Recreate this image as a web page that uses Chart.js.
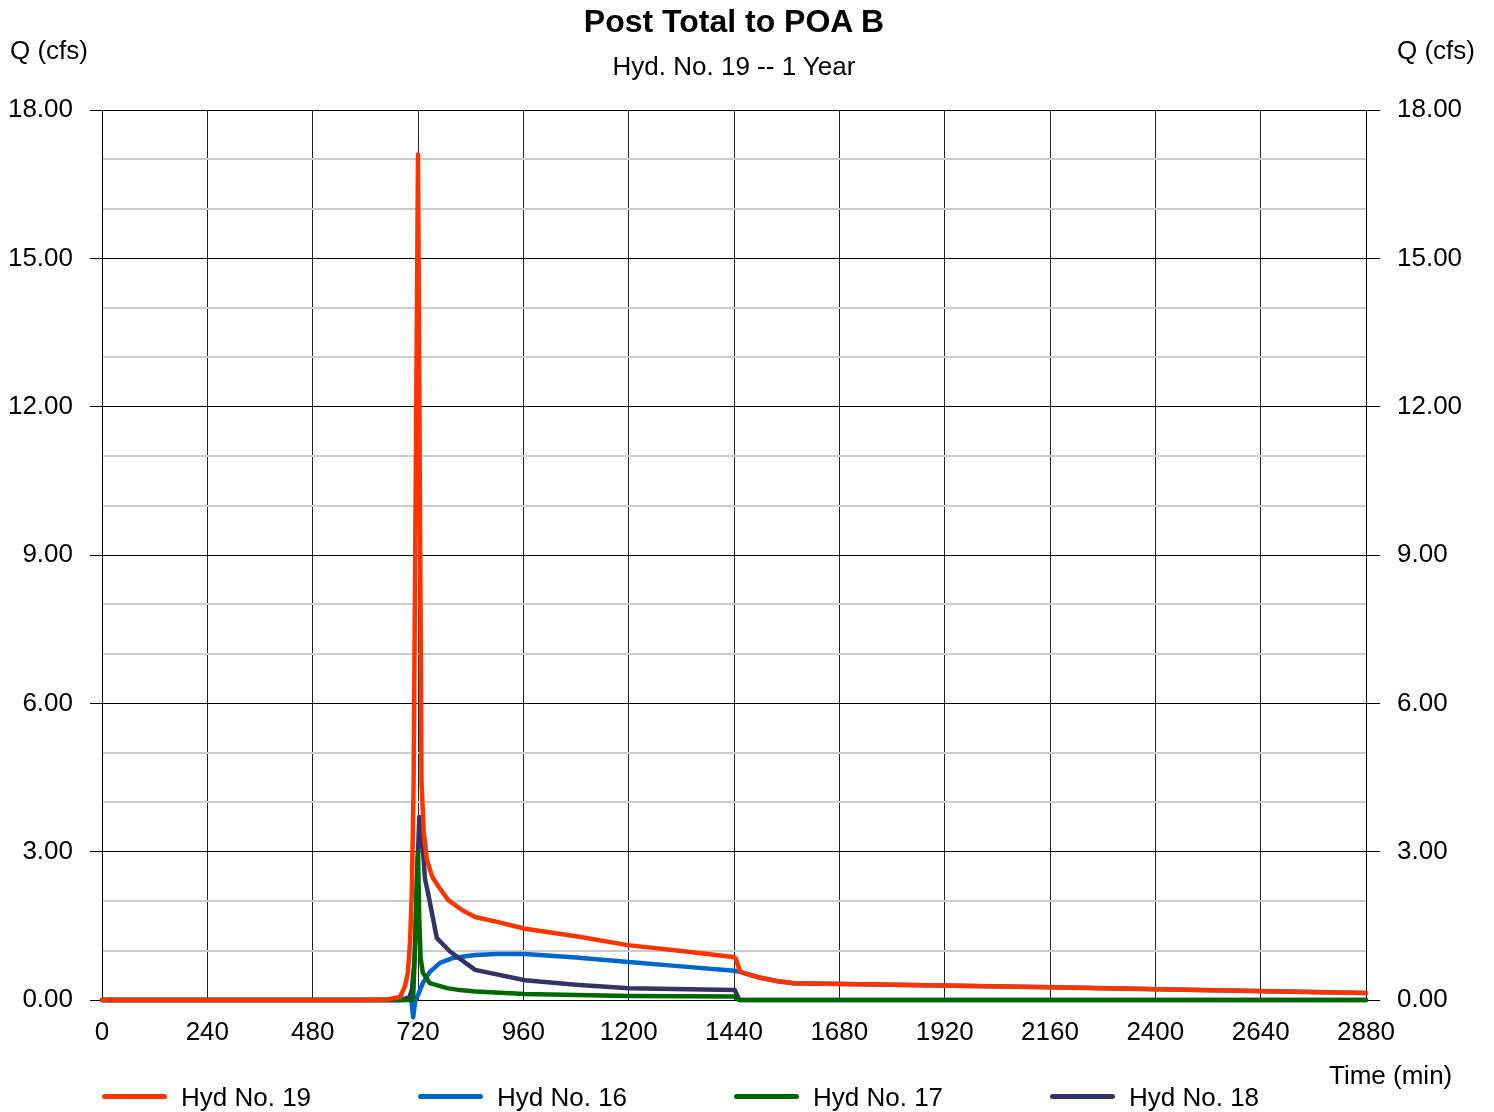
<!DOCTYPE html>
<html>
<head>
<meta charset="utf-8">
<script src="https://cdn.jsdelivr.net/npm/chart.js@4/dist/chart.umd.min.js"></script>
<style>
  body { margin: 0; background: #fff; font-family: "Liberation Sans", Arial, sans-serif; color: #000; }
  #wrap { position: relative; width: 1494px; height: 1112px; }
  .txt { position: absolute; line-height: 1; white-space: nowrap; font-size: 26px; }
  .title { font-size: 32px; font-weight: bold; left: 0; width: 1468px; text-align: center; }
  .sub { left: 0; width: 1468px; text-align: center; }
  .leg-line { position: absolute; height: 5px; width: 65px; border-radius: 3px; }
</style>
</head>
<body>
<div id="wrap">
  <canvas id="chart" width="1494" height="1112"></canvas>
  <div class="txt title" style="top:5px">Post Total to POA B</div>
  <div class="txt sub" style="top:53px">Hyd. No. 19 -- 1 Year</div>
  <div class="txt" style="left:10px; top:37px">Q (cfs)</div>
  <div class="txt" style="left:1397px; top:37px">Q (cfs)</div>
  <div class="txt" style="left:1329px; top:1062px">Time (min)</div>
  <div id="legend"></div>
</div>
<script>
// Hyd No. 19 (total)
const hyd19Time = [0, 600, 650, 679, 690, 697, 702, 706, 710, 720, 728, 733, 740, 752, 766, 789, 820, 850, 900, 964, 1080, 1198, 1320, 1438, 1444, 1454, 1495, 1540, 1576, 1800, 2163, 2500, 2880];
const hyd19Q    = [0, 0, 0.01, 0.06, 0.27, 0.55, 1.2, 2.2, 4.4, 17.1, 4.4, 3.4, 2.85, 2.5, 2.3, 2.02, 1.82, 1.68, 1.58, 1.44, 1.29, 1.11, 0.99, 0.87, 0.84, 0.57, 0.46, 0.38, 0.34, 0.31, 0.26, 0.20, 0.14];

// Hyd No. 16
const hyd16Time = [0, 690, 700, 704, 709, 714, 720, 731, 747, 770, 800, 850, 900, 964, 1080, 1200, 1320, 1440, 1454, 1495, 1540, 1576, 1800, 2163, 2500, 2880];
const hyd16Q    = [0, 0, 0.02, 0.08, -0.35, 0.0, 0.1, 0.34, 0.57, 0.75, 0.85, 0.91, 0.93, 0.93, 0.86, 0.77, 0.68, 0.59, 0.57, 0.46, 0.38, 0.34, 0.31, 0.26, 0.20, 0.14];

// Hyd No. 17
const hyd17Time = [0, 706, 709, 714, 718, 720, 723, 726, 731, 747, 786, 816, 850, 964, 1200, 1442, 1452, 2880];
const hyd17Q    = [0, 0, 0.05, 1.2, 2.6, 3.0, 1.6, 0.85, 0.55, 0.34, 0.24, 0.2, 0.17, 0.12, 0.08, 0.07, 0, 0];

// Hyd No. 18
const hyd18Time = [0, 680, 700, 706, 712, 718, 723, 729, 736, 743, 763, 793, 850, 964, 1080, 1200, 1442, 1452, 2880];
const hyd18Q    = [0, 0, 0.05, 0.2, 0.8, 2.5, 3.7, 3.3, 2.45, 2.16, 1.25, 0.98, 0.61, 0.40, 0.31, 0.24, 0.20, 0, 0];

const seriesNames = ['Hyd No. 19', 'Hyd No. 16', 'Hyd No. 17', 'Hyd No. 18'];
const seriesColors = ['#ff3300', '#0066cc', '#006600', '#333366'];
const seriesOrder = [0, 3, 1, 2];

const xTicks = [0, 240, 480, 720, 960, 1200, 1440, 1680, 1920, 2160, 2400, 2640, 2880];
const yMax = 18;
const yMajor = 3;

function toPoints(times, values) {
  return times.map((t, i) => ({ x: t, y: values[i] }));
}

const allSeries = [
  toPoints(hyd19Time, hyd19Q),
  toPoints(hyd16Time, hyd16Q),
  toPoints(hyd17Time, hyd17Q),
  toPoints(hyd18Time, hyd18Q)
];

const datasets = allSeries.map((pts, i) => ({
  label: seriesNames[i],
  data: pts,
  borderColor: seriesColors[i],
  borderWidth: 4.5,
  pointRadius: 0,
  tension: 0,
  fill: false,
  clip: 20,
  order: seriesOrder[i],
  borderJoinStyle: 'round',
  borderCapStyle: 'round'
}));

const tickFont = { family: 'Liberation Sans', size: 26 };
const isMajor = v => Math.abs(v % yMajor) < 1e-6;

new Chart(document.getElementById('chart'), {
  type: 'line',
  data: { datasets: datasets },
  options: {
    responsive: false,
    devicePixelRatio: 1,
    animation: false,
    layout: { padding: { top: 110, left: 0, right: 0, bottom: 0 } },
    plugins: { legend: { display: false }, tooltip: { enabled: false } },
    scales: {
      x: {
        type: 'linear',
        min: 0,
        max: 2880,
        afterBuildTicks: scale => { scale.ticks = xTicks.map(v => ({ value: v })); },
        afterFit: scale => { scale.height = 112; },
        ticks: { font: tickFont, color: '#000', padding: 11, maxRotation: 0, callback: v => String(v) },
        grid: { color: '#222', lineWidth: 1, tickLength: 6, tickColor: 'rgba(0,0,0,0)' },
        border: { color: '#000', width: 1 }
      },
      y: {
        position: 'left',
        min: 0,
        max: yMax,
        afterFit: scale => { scale.width = 102; },
        ticks: {
          stepSize: 1,
          font: tickFont,
          color: '#000',
          padding: 17,
          callback: v => isMajor(v) ? v.toFixed(2) : ''
        },
        grid: {
          color: c => isMajor(c.tick.value) ? '#000' : '#cccccc',
          lineWidth: c => isMajor(c.tick.value) ? 1 : 2,
          tickLength: 12,
          tickColor: c => isMajor(c.tick.value) ? '#000' : 'rgba(0,0,0,0)'
        },
        border: { color: '#000', width: 1 }
      },
      y2: {
        position: 'right',
        display: true,
        min: 0,
        max: yMax,
        afterFit: scale => { scale.width = 128; },
        ticks: {
          stepSize: 1,
          font: tickFont,
          color: '#000',
          padding: 17,
          callback: v => isMajor(v) ? v.toFixed(2) : ''
        },
        grid: {
          drawOnChartArea: false,
          tickLength: 14,
          tickColor: c => isMajor(c.tick.value) ? '#000' : 'rgba(0,0,0,0)'
        },
        border: { color: '#000', width: 1 }
      }
    }
  }
});

// legend built from the series names and colours
const legend = document.getElementById('legend');
seriesNames.forEach((name, i) => {
  const left = 102 + i * 316;
  const line = document.createElement('div');
  line.className = 'leg-line';
  line.style.left = left + 'px';
  line.style.top = '1094px';
  line.style.backgroundColor = seriesColors[i];
  const label = document.createElement('div');
  label.className = 'txt';
  label.style.left = (left + 79) + 'px';
  label.style.top = '1084px';
  label.textContent = name;
  legend.append(line, label);
});
</script>
</body>
</html>
